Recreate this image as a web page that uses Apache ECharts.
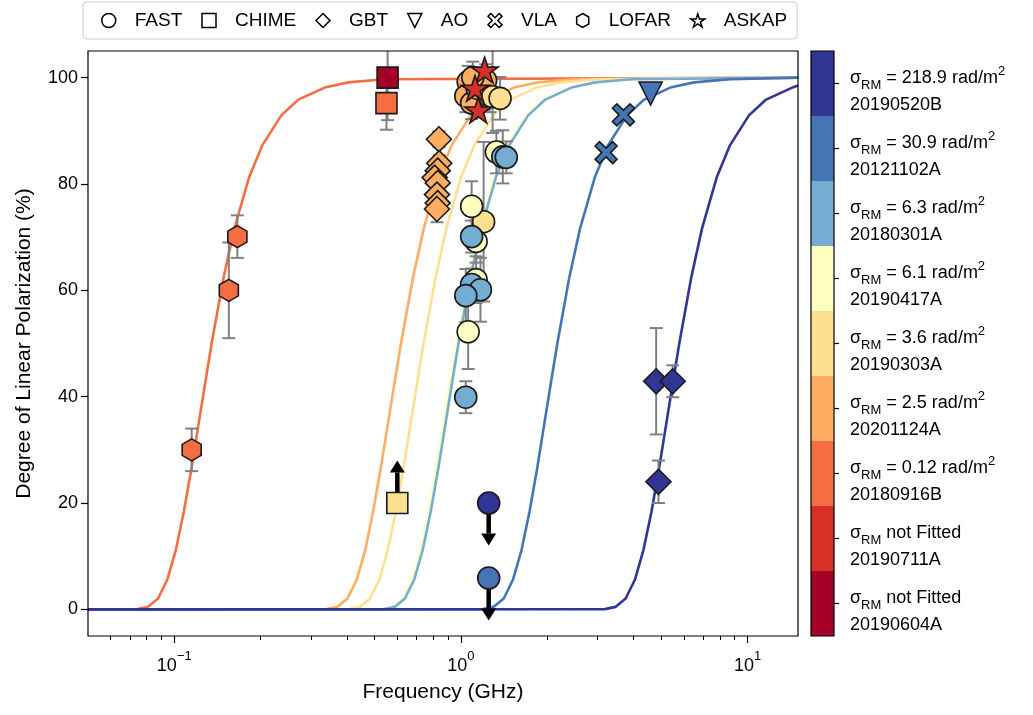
<!DOCTYPE html>
<html><head><meta charset="utf-8">
<script src="https://cdn.jsdelivr.net/npm/echarts@6/dist/echarts.min.js"></script>
<style>html,body{margin:0;padding:0;background:#fff}#main{width:1033px;height:715px}</style>
</head><body><div id="main"></div>
<script>
// ---------------- data ----------------
// FRBs, bottom to top of the colour bar
const frbNames  = ['20190604A','20190711A','20180916B','20201124A','20190303A','20190417A','20180301A','20121102A','20190520B'];
const frbColors = ['#a50026','#d73027','#f46d43','#fdae61','#fee090','#ffffbf','#74add1','#4575b4','#313695'];
const frbSigma  = [null, null, '0.12', '2.5', '3.6', '6.1', '6.3', '30.9', '218.9'];

const telescopes = ['FAST','CHIME','GBT','AO','VLA','LOFAR','ASKAP'];

const xTicks = [0.1, 1, 10];
const xMinorTicks = [0.06,0.07,0.08,0.09,0.2,0.3,0.4,0.5,0.6,0.7,0.8,0.9,2,3,4,5,6,7,8,9];
const yTicks = [0, 20, 40, 60, 80, 100];

// rows: [frequency GHz, linear pol %, error below, error above, FRB, limit (1 lower limit, -1 upper limit, 0 none)]
const fastPoints = [
  [1.06, 99.2, 3, 3, '20201124A', 0],
  [1.04, 96.5, 3, 3, '20201124A', 0],
  [1.09, 95.2, 3, 3, '20201124A', 0],
  [1.14, 98.0, 3, 3, '20201124A', 0],
  [1.22, 99.5, 3, 3, '20201124A', 0],
  [1.26, 96.5, 3, 3, '20201124A', 0],
  [1.10, 100.0, 3, 3, '20201124A', 0],
  [1.29, 96.4, 6.8, 12, '20190303A', 0],
  [1.37, 96.1, 4, 4, '20190303A', 0],
  [1.20, 72.9, 15, 15, '20190303A', 0],
  [1.33, 86.0, 4, 4, '20190417A', 0],
  [1.09, 75.8, 4.7, 4.7, '20190417A', 0],
  [1.13, 69.2, 4, 4, '20190417A', 0],
  [1.13, 62.0, 4.4, 4.4, '20190417A', 0],
  [1.06, 52.2, 7, 7, '20190417A', 0],
  [1.40, 85.1, 5, 5, '20180301A', 0],
  [1.44, 85.0, 3, 3, '20180301A', 0],
  [1.09, 70.1, 3, 3, '20180301A', 0],
  [1.09, 61.1, 3, 3, '20180301A', 0],
  [1.17, 60.1, 6, 6, '20180301A', 0],
  [1.04, 59.0, 5, 5, '20180301A', 0],
  [1.04, 39.9, 3, 3, '20180301A', 0],
  [1.25, 20.0, 0, 0, '20190520B', -1],
  [1.25, 5.9, 0, 0, '20121102A', -1]
];
const chimePoints = [
  [0.555, 100.0, 8, 8, '20190604A', 0],
  [0.55, 95.2, 5, 5, '20180916B', 0],
  [0.60, 20.0, 0, 0, '20190303A', 1]
];
const gbtPoints = [
  [0.838, 88.4, 1.5, 1.5, '20201124A', 0],
  [0.84, 83.9, 1.5, 1.5, '20201124A', 0],
  [0.83, 82.5, 1.5, 1.5, '20201124A', 0],
  [0.81, 81.2, 1.5, 1.5, '20201124A', 0],
  [0.83, 80.2, 1.5, 1.5, '20201124A', 0],
  [0.825, 78.0, 1.5, 1.5, '20201124A', 0],
  [0.83, 76.4, 2, 2, '20201124A', 0],
  [0.825, 75.3, 2.5, 2.5, '20201124A', 0],
  [4.80, 42.9, 10, 10, '20190520B', 0],
  [5.48, 42.9, 3, 3, '20190520B', 0],
  [4.89, 24.0, 4, 4, '20190520B', 0]
];
const aoPoints = [
  [4.59, 97.0, 0, 0, '20121102A', 0]
];
const vlaPoints = [
  [3.69, 93.0, 1, 1, '20121102A', 0],
  [3.21, 85.9, 0, 0, '20121102A', 0]
];
const lofarPoints = [
  [0.166, 70.1, 4, 4, '20180916B', 0],
  [0.155, 60.0, 9, 9, '20180916B', 0],
  [0.115, 30.0, 4, 4, '20180916B', 0]
];
const askapPoints = [
  [1.21, 101.4, 0, 0, '20190711A', 0],
  [1.12, 98.0, 0, 0, '20190711A', 0],
  [1.15, 93.9, 0, 0, '20190711A', 0]
];

// depolarisation model curves [frequency GHz, pol %]
const curve20180916B = [[0.05,0],[0.0743,0.05],[0.081,0.48],[0.0878,2.06],[0.0945,5.57],[0.1013,11.2],[0.108,18.4],[0.1148,26.5],[0.1215,34.8],[0.1283,42.7],[0.135,50],[0.1485,62.3],[0.162,71.6],[0.1823,81.2],[0.2025,87.2],[0.2363,92.9],[0.27,95.8],[0.3375,98.2],[0.405,99.1],[0.54,99.7],[15,100]];
const curve20201124A = [[0.05,0],[0.340,0.05],[0.371,0.48],[0.402,2.06],[0.433,5.57],[0.464,11.2],[0.494,18.4],[0.525,26.5],[0.556,34.8],[0.587,42.7],[0.618,50],[0.680,62.3],[0.742,71.6],[0.834,81.2],[0.927,87.2],[1.082,92.9],[1.236,95.8],[1.545,98.2],[1.854,99.1],[2.472,99.7],[15,100]];
const curve20190303A = [[0.05,0],[0.408,0.05],[0.445,0.48],[0.482,2.06],[0.519,5.57],[0.556,11.2],[0.593,18.4],[0.630,26.5],[0.667,34.8],[0.704,42.7],[0.741,50],[0.815,62.3],[0.889,71.6],[1.000,81.2],[1.112,87.2],[1.297,92.9],[1.482,95.8],[1.853,98.2],[2.223,99.1],[2.964,99.7],[15,100]];
const curve20190417A = [[0.05,0],[0.531,0.05],[0.579,0.48],[0.627,2.06],[0.676,5.57],[0.724,11.2],[0.772,18.4],[0.820,26.5],[0.869,34.8],[0.917,42.7],[0.965,50],[1.062,62.3],[1.158,71.6],[1.303,81.2],[1.448,87.2],[1.689,92.9],[1.930,95.8],[2.413,98.2],[2.895,99.1],[3.86,99.7],[15,100]];
const curve20180301A = [[0.05,0],[0.540,0.05],[0.589,0.48],[0.638,2.06],[0.687,5.57],[0.736,11.2],[0.785,18.4],[0.834,26.5],[0.883,34.8],[0.932,42.7],[0.981,50],[1.079,62.3],[1.177,71.6],[1.324,81.2],[1.472,87.2],[1.717,92.9],[1.962,95.8],[2.453,98.2],[2.943,99.1],[3.924,99.7],[15,100]];
const curve20121102A = [[0.05,0],[1.194,0.05],[1.302,0.48],[1.411,2.06],[1.519,5.57],[1.628,11.2],[1.736,18.4],[1.845,26.5],[1.953,34.8],[2.062,42.7],[2.17,50],[2.387,62.3],[2.604,71.6],[2.930,81.2],[3.255,87.2],[3.798,92.9],[4.34,95.8],[5.425,98.2],[6.51,99.1],[8.68,99.7],[15,100]];
const curve20190520B = [[0.05,0],[3.179,0.05],[3.468,0.48],[3.757,2.06],[4.046,5.57],[4.335,11.2],[4.624,18.4],[4.913,26.5],[5.202,34.8],[5.491,42.7],[5.78,50],[6.358,62.3],[6.936,71.6],[7.803,81.2],[8.67,87.2],[10.115,92.9],[11.56,95.8],[14.45,98.2],[15,98.5]];

// ---------------- styling & build ----------------
const FONT = '"Liberation Sans", Arial, Helvetica, sans-serif';
const FS = 18;
const FS_TITLE = 21;
const FS_LEGEND = 19;
const ARROW_LEN = 8;
const colorOf = n => frbColors[frbNames.indexOf(n)];

const TRI_DOWN = 'path://M-1,-1 L1,-1 L0,1 Z';
const XMARK = 'path://M-0.5,-0.3 L-0.3,-0.5 L0,-0.2 L0.3,-0.5 L0.5,-0.3 L0.2,0 L0.5,0.3 L0.3,0.5 L0,0.2 L-0.3,0.5 L-0.5,0.3 L-0.2,0 Z';
const HEX = 'path://M0,-1 L0.866,-0.5 L0.866,0.5 L0,1 L-0.866,0.5 L-0.866,-0.5 Z';
const STAR = 'path://M0,-1 L0.2245,-0.309 L0.951,-0.309 L0.363,0.118 L0.588,0.809 L0,0.382 L-0.588,0.809 L-0.363,0.118 L-0.951,-0.309 L-0.2245,-0.309 Z';

const telescopeRows = [fastPoints, chimePoints, gbtPoints, aoPoints, vlaPoints, lofarPoints, askapPoints];
const telescopeSymbols = ['circle', 'rect', 'diamond', TRI_DOWN, XMARK, HEX, STAR];
const telescopeSizes = [22, 21, 25, 23, 22, 22, 27];

const curveList = [curve20180916B, curve20201124A, curve20190303A, curve20190417A, curve20180301A, curve20121102A, curve20190520B];
const curveFrb = ['20180916B','20201124A','20190303A','20190417A','20180301A','20121102A','20190520B'];

const allRows = [].concat(...telescopeRows);
const errRows = allRows.filter(r => r[2] > 0 || r[3] > 0).map(r => [r[0], r[1], r[2], r[3]]);
const limitRows = allRows.filter(r => r[5] !== 0).map(r => [r[0], r[1], r[5]]);

const series = [];
curveList.forEach((c, i) => {
  series.push({
    type: 'line', name: 'curve' + curveFrb[i], data: c, xAxisIndex: 0, yAxisIndex: 0,
    showSymbol: false, symbol: 'none', silent: true, z: 2,
    lineStyle: { color: colorOf(curveFrb[i]), width: 2.6 }
  });
});
series.push({
  type: 'custom', name: 'errors', xAxisIndex: 0, yAxisIndex: 0, z: 3, silent: true,
  data: errRows, encode: { x: 0, y: 1 },
  renderItem: (params, api) => {
    const x = api.value(0), y = api.value(1), lo = api.value(2), hi = api.value(3);
    const cs = params.coordSys; const top = cs.y, bottom = cs.y + cs.height;
    const pLo = api.coord([x, y - lo]); const pHi = api.coord([x, y + hi]);
    const cap = 6.5, st = { stroke: '#808080', lineWidth: 2 };
    const children = [{ type: 'line', shape: { x1: pLo[0], y1: Math.min(pLo[1], bottom), x2: pLo[0], y2: Math.max(pHi[1], top) }, style: st }];
    if (pHi[1] >= top) children.push({ type: 'line', shape: { x1: pHi[0] - cap, y1: pHi[1], x2: pHi[0] + cap, y2: pHi[1] }, style: st });
    if (pLo[1] <= bottom) children.push({ type: 'line', shape: { x1: pLo[0] - cap, y1: pLo[1], x2: pLo[0] + cap, y2: pLo[1] }, style: st });
    return { type: 'group', children };
  }
});
series.push({
  type: 'custom', name: 'limits', xAxisIndex: 0, yAxisIndex: 0, z: 3, silent: true,
  data: limitRows, encode: { x: 0, y: 1 },
  renderItem: (params, api) => {
    const x = api.value(0), y = api.value(1), dir = api.value(2);
    const p0 = api.coord([x, y]); const p1 = api.coord([x, y + dir * ARROW_LEN]);
    const head = 12, hw = 7.5;
    const sgn = p1[1] < p0[1] ? -1 : 1;
    const baseY = p1[1] - sgn * head;
    return { type: 'group', children: [
      { type: 'line', shape: { x1: p0[0], y1: p0[1], x2: p0[0], y2: baseY }, style: { stroke: '#000', lineWidth: 4.5 } },
      { type: 'polygon', shape: { points: [[p1[0], p1[1]], [p1[0] - hw, baseY], [p1[0] + hw, baseY]] }, style: { fill: '#000' } }
    ]};
  }
});
telescopes.forEach((t, i) => {
  series.push({
    type: 'scatter', name: t, xAxisIndex: 0, yAxisIndex: 0, z: 5,
    symbol: telescopeSymbols[i], symbolSize: telescopeSizes[i], symbolKeepAspect: true,
    itemStyle: { borderColor: '#1a1a1a', borderWidth: 1.6, opacity: 1 },
    data: telescopeRows[i].map(r => ({ value: [r[0], r[1]], itemStyle: { color: colorOf(r[4]) } }))
  });
});
series.push({
  type: 'bar', name: 'colorbar', xAxisIndex: 2, yAxisIndex: 1, silent: true,
  barWidth: '100%', barCategoryGap: '0%',
  data: frbNames.map((n, i) => ({ value: 1, itemStyle: { color: frbColors[i] } }))
});

const option = {
  animation: false,
  backgroundColor: '#fff',
  textStyle: { fontFamily: FONT },
  grid: [
    { left: 88, top: 51, width: 710, height: 585, show: true, borderColor: '#000', borderWidth: 1.2, backgroundColor: 'transparent', z: 10 },
    { left: 811, top: 51, width: 23, height: 585, show: true, borderColor: '#000', borderWidth: 1.2, backgroundColor: 'transparent', z: 10 }
  ],
  legend: {
    left: 83, top: 2,
    padding: [9, 10, 9, 18],
    itemGap: 19, itemWidth: 14, itemHeight: 14,
    borderColor: '#cccccc', borderWidth: 1, borderRadius: 4,
    textStyle: { fontSize: FS_LEGEND, color: '#000', fontFamily: FONT, padding: [0, 0, 0, 14] },
    itemStyle: { color: '#fff', borderColor: '#000', borderWidth: 1.5 },
    data: telescopes.map((t, i) => ({
      name: t, icon: telescopeSymbols[i],
      itemStyle: { color: '#fff', borderColor: '#000', borderWidth: 1.5 }
    }))
  },
  xAxis: [
    {
      type: 'log', gridIndex: 0, min: 0.05, max: 15, logBase: 10, position: 'bottom',
      axisLine: { show: false, onZero: false }, splitLine: { show: false },
      axisTick: { show: true, inside: false, length: 7, customValues: xTicks, lineStyle: { color: '#000', width: 1.2 } },
      axisLabel: {
        customValues: xTicks, margin: 14, color: '#000', fontFamily: FONT,
        formatter: v => { const e = Math.round(Math.log10(v)); return '{b|10}{e|' + (e < 0 ? '\u2212' + (-e) : String(e)) + '}'; },
        rich: {
          b: { fontSize: FS, lineHeight: 32, fontFamily: FONT, color: '#000' },
          e: { fontSize: 13, lineHeight: 8, verticalAlign: 'top', fontFamily: FONT, color: '#000' }
        }
      },
      name: 'Frequency (GHz)', nameLocation: 'middle', nameGap: 46,
      nameTextStyle: { fontSize: FS_TITLE, color: '#000', fontFamily: FONT }
    },
    {
      type: 'log', gridIndex: 0, min: 0.05, max: 15, logBase: 10, position: 'bottom', offset: 0,
      axisLine: { show: false, onZero: false }, splitLine: { show: false }, axisLabel: { show: false },
      axisTick: { show: true, inside: false, length: 4, customValues: xMinorTicks, lineStyle: { color: '#000', width: 1 } }
    },
    { type: 'value', gridIndex: 1, min: 0, max: 1, show: false }
  ],
  yAxis: [
    {
      type: 'value', gridIndex: 0, min: -5, max: 105,
      axisLine: { show: false, onZero: false }, splitLine: { show: false },
      axisTick: { show: true, inside: false, length: 7, customValues: yTicks, lineStyle: { color: '#000', width: 1.2 } },
      axisLabel: { customValues: yTicks, fontSize: FS, color: '#000', margin: 10, fontFamily: FONT },
      name: 'Degree of Linear Polarization (%)', nameLocation: 'middle', nameGap: 53, nameRotate: 90,
      nameTextStyle: { fontSize: FS_TITLE, color: '#000', fontFamily: FONT }
    },
    {
      type: 'category', gridIndex: 1, data: frbNames, position: 'right',
      axisLine: { show: false, onZero: false },
      axisTick: { show: true, alignWithLabel: true, length: 5, inside: false, lineStyle: { color: '#000', width: 1.2 } },
      axisLabel: {
        margin: 16, color: '#000', fontFamily: FONT, padding: [17, 0, 0, 0], align: 'left',
        formatter: (v, idx) => {
          const s = frbSigma[idx];
          const l1 = s === null ? '{s|\u03c3}{sub|RM}{t| not Fitted}' : '{s|\u03c3}{sub|RM}{t| = ' + s + ' rad/m}{sup|2}';
          return l1 + '\n{t|' + v + '}';
        },
        rich: {
          s: { fontSize: FS, lineHeight: 27, fontFamily: FONT, color: '#000' },
          t: { fontSize: FS, lineHeight: 27, fontFamily: FONT, color: '#000' },
          sub: { fontSize: 13, lineHeight: 12, verticalAlign: 'bottom', fontFamily: FONT, color: '#000' },
          sup: { fontSize: 13, lineHeight: 10, verticalAlign: 'top', fontFamily: FONT, color: '#000' }
        }
      }
    }
  ],
  series
};
const chart = echarts.init(document.getElementById('main'));
chart.setOption(option);
</script></body></html>
